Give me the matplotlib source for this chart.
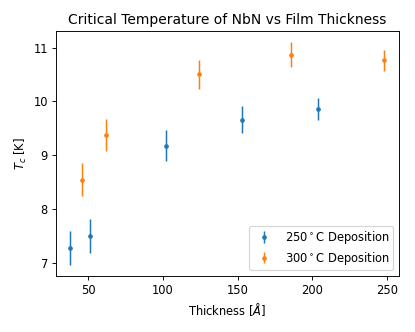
import matplotlib
matplotlib.use("Agg")
import matplotlib.pyplot as plt

# Deposicion a 250 C
espesor_250 = [38, 51, 102, 153, 204]
tc_250 = [7.28, 7.50, 9.18, 9.66, 9.86]
err_250 = [0.32, 0.31, 0.29, 0.25, 0.21]

# Deposicion a 300 C
espesor_300 = [46, 62, 124, 186, 248]
tc_300 = [8.55, 9.38, 10.50, 10.87, 10.76]
err_300 = [0.31, 0.30, 0.27, 0.23, 0.19]

fig, ax = plt.subplots(figsize=(5, 4), dpi=83)
fig.subplots_adjust(left=0.135, right=0.961, top=0.907, bottom=0.169)

ax.errorbar(espesor_250, tc_250, yerr=err_250, fmt='.', color='#1f77b4',
            elinewidth=1.3, label=r'250$^\circ$C Deposition')
ax.errorbar(espesor_300, tc_300, yerr=err_300, fmt='.', color='#ff7f0e',
            elinewidth=1.3, label=r'300$^\circ$C Deposition')

ax.set_xlim(28.5, 258)
ax.set_ylim(6.76, 11.31)
ax.set_yticks([7, 8, 9, 10, 11])
ax.set_title('Critical Temperature of NbN vs Film Thickness')
ax.set_xlabel(r'Thickness [$\AA$]')
ax.set_ylabel(r'$T_c$ [K]')
ax.legend(loc='lower right', labelspacing=0.3, borderpad=0.3)

plt.savefig("out.png", dpi=83)
plt.close()
